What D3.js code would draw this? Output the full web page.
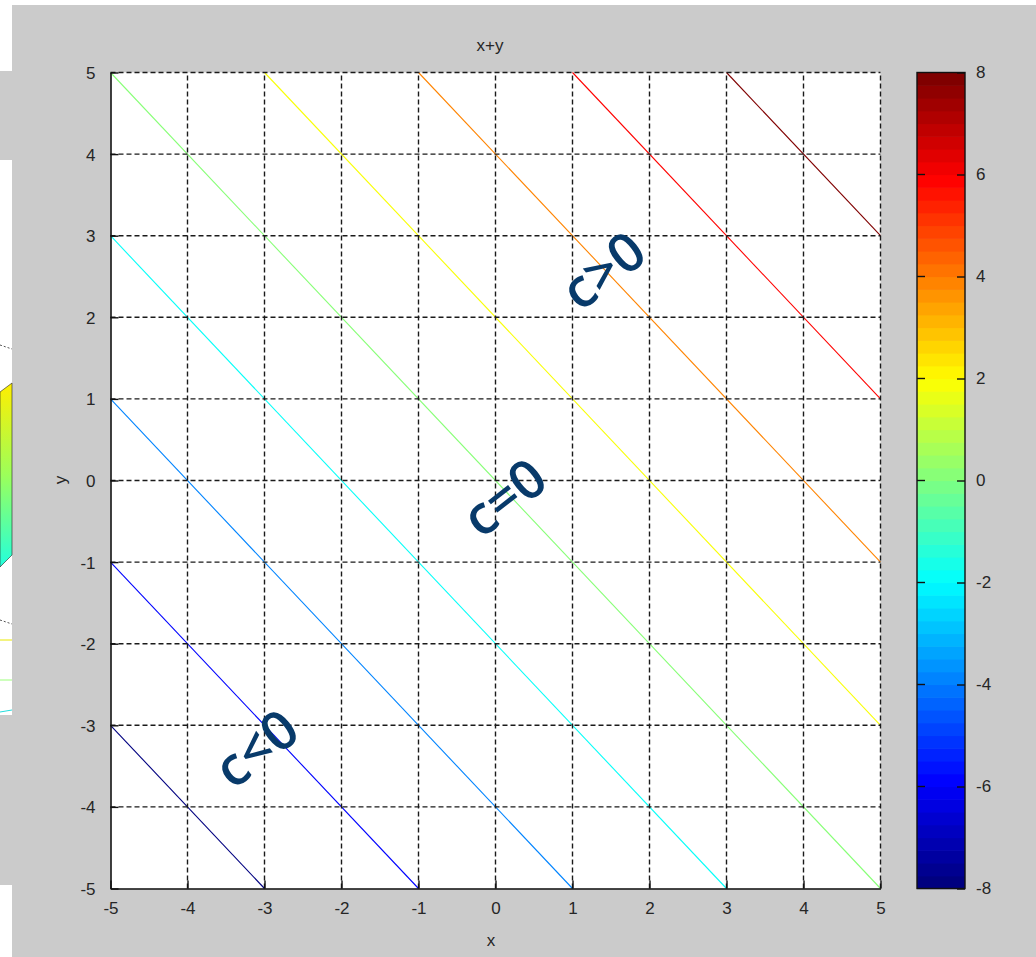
<!DOCTYPE html>
<html>
<head>
<meta charset="utf-8">
<script src="https://cdn.jsdelivr.net/npm/d3@7"></script>
<style>
  html, body { margin: 0; padding: 0; background: #fff; }
  svg { display: block; }
  text { font-family: "Liberation Sans", Arial, sans-serif; fill: #262626; }
</style>
</head>
<body>
<div id="chart"></div>
<script>
// contour of x+y over [-5,5]x[-5,5]
const levels = [-8, -6, -4, -2, 0, 2, 4, 6, 8]
const xTicks = [-5, -4, -3, -2, -1, 0, 1, 2, 3, 4, 5]
const yTicks = [-5, -4, -3, -2, -1, 0, 1, 2, 3, 4, 5]
const cbTicks = [-8, -6, -4, -2, 0, 2, 4, 6, 8]
const notes = [
    {label: 'c>0', x: 602, y: 269},
    {label: 'c=0', x: 503, y: 496},
    {label: 'c<0', x: 255, y: 747}
]

const W = 1036, H = 957
const svg = d3.select('#chart').append('svg').attr('width', W).attr('height', H)
const fmt = d => String(d)   // plain hyphen minus like matlab

// window background pieces
svg.append('rect').attr('x', 0).attr('y', 0).attr('width', W).attr('height', H).attr('fill', '#fff')
svg.append('rect').attr('x', 12).attr('y', 5).attr('width', W - 12).attr('height', H - 5).attr('fill', '#cbcbcb')
svg.append('rect').attr('x', 0).attr('y', 71).attr('width', 12).attr('height', 814).attr('fill', '#cbcbcb')

// leftover of the other figure window on the left edge
const left = svg.append('g')
left.append('rect').attr('x', 0).attr('y', 160).attr('width', 12).attr('height', 555).attr('fill', '#fff')
const grad = svg.append('defs').append('linearGradient').attr('id', 'surf')
    .attr('x1', 0).attr('y1', 0).attr('x2', 0).attr('y2', 1)
grad.append('stop').attr('offset', 0).attr('stop-color', '#ffee00')
grad.append('stop').attr('offset', 0.5).attr('stop-color', '#9cff5a')
grad.append('stop').attr('offset', 1).attr('stop-color', '#22ffdd')
left.append('path').attr('d', 'M0,392 L12,383 L12,555 L0,567 Z').attr('fill', 'url(#surf)')
    .attr('stroke', '#222').attr('stroke-width', 0.6)
left.append('line').attr('x1', 0).attr('x2', 12).attr('y1', 640).attr('y2', 640).attr('stroke', '#e8e800')
left.append('line').attr('x1', 0).attr('x2', 12).attr('y1', 680).attr('y2', 680).attr('stroke', '#9cff7a')
left.append('line').attr('x1', 0).attr('x2', 12).attr('y1', 712).attr('y2', 710).attr('stroke', '#22dddd')
left.append('line').attr('x1', 0).attr('x2', 12).attr('y1', 345).attr('y2', 349).attr('stroke', '#555').attr('stroke-dasharray', '2,2')
left.append('line').attr('x1', 0).attr('x2', 12).attr('y1', 620).attr('y2', 624).attr('stroke', '#555').attr('stroke-dasharray', '2,2')

// jet colormap, 64 steps like matlab
const jet = d3.range(64).map(i => {
    const t = i / 63
    const c = v => Math.max(0, Math.min(1, v))
    const r = c(1.5 - Math.abs(4 * t - 3))
    const g = c(1.5 - Math.abs(4 * t - 2))
    const b = c(1.5 - Math.abs(4 * t - 1))
    return d3.rgb(r * 255, g * 255, b * 255).formatHex()
})
const colorOf = v => jet[Math.round((v + 8) / 16 * 63)]

const x = d3.scaleLinear().domain([-5, 5]).range([110.5, 880.5])
const y = d3.scaleLinear().domain([-5, 5]).range([888.5, 72.5])

// plot area
svg.append('rect').attr('x', x(-5)).attr('y', y(5))
    .attr('width', x(5) - x(-5)).attr('height', y(-5) - y(5)).attr('fill', '#fff')

// contour lines x+y=c clipped to the box
const g = svg.append('g')
g.selectAll('line.lvl').data(levels).enter().append('line')
    .attr('class', 'lvl')
    .attr('x1', c => x(Math.max(-5, c - 5)))
    .attr('y1', c => y(c - Math.max(-5, c - 5)))
    .attr('x2', c => x(Math.min(5, c + 5)))
    .attr('y2', c => y(c - Math.min(5, c + 5)))
    .attr('stroke', c => colorOf(c))
    .attr('stroke-width', 1.1)

// dashed grid
const grid = svg.append('g').attr('stroke', '#1a1a1a').attr('stroke-width', 1.4).attr('stroke-dasharray', '5,3')
grid.selectAll('line.gx').data(xTicks.filter(d => d > -5)).enter().append('line')
    .attr('x1', d => x(d)).attr('x2', d => x(d)).attr('y1', y(-5)).attr('y2', y(5))
grid.selectAll('line.gy').data(yTicks.filter(d => d > -5)).enter().append('line')
    .attr('y1', d => y(d)).attr('y2', d => y(d)).attr('x1', x(-5)).attr('x2', x(5))

// axes
const xAxis = svg.append('g').attr('transform', `translate(0,${y(-5)})`)
    .call(d3.axisBottom(x).tickValues(xTicks).tickFormat(fmt).tickSizeInner(-8).tickSizeOuter(0).tickPadding(13))
const yAxis = svg.append('g').attr('transform', `translate(${x(-5)},0)`)
    .call(d3.axisLeft(y).tickValues(yTicks).tickFormat(fmt).tickSizeInner(-8).tickSizeOuter(0).tickPadding(15))
;[xAxis, yAxis].forEach(a => {
    a.select('.domain').attr('stroke', '#111').attr('stroke-width', 1.6)
    a.selectAll('.tick line').attr('stroke', '#111').attr('stroke-width', 1.4)
    a.selectAll('.tick text').attr('font-size', 17).attr('fill', '#222')
        .style('font-family', '"Liberation Sans", Arial, sans-serif')
})
yAxis.selectAll('.tick text').attr('dy', '0.35em')

// labels
svg.append('text').attr('x', 490).attr('y', 51).attr('text-anchor', 'middle')
    .attr('font-size', 17).text('x+y')
svg.append('text').attr('x', 491).attr('y', 946).attr('text-anchor', 'middle')
    .attr('font-size', 17).text('x')
svg.append('text').attr('transform', 'translate(66,480) rotate(-90)').attr('text-anchor', 'middle')
    .attr('font-size', 17).text('y')

// colorbar
const cb = {x0: 917, x1: 965}
const cy = d3.scaleLinear().domain([-8, 8]).range([888.5, 72.5])
const step = 16 / 64
svg.append('g').selectAll('rect').data(jet).enter().append('rect')
    .attr('x', cb.x0).attr('width', cb.x1 - cb.x0)
    .attr('y', (d, i) => cy(-8 + (i + 1) * step))
    .attr('height', (d, i) => cy(-8 + i * step) - cy(-8 + (i + 1) * step) + 0.6)
    .attr('fill', d => d)
svg.append('rect').attr('x', cb.x0).attr('y', cy(8)).attr('width', cb.x1 - cb.x0)
    .attr('height', cy(-8) - cy(8)).attr('fill', 'none').attr('stroke', '#111').attr('stroke-width', 1.4)
const cbAxis = svg.append('g').attr('transform', `translate(${cb.x1},0)`)
    .call(d3.axisRight(cy).tickValues(cbTicks).tickFormat(fmt).tickSizeInner(-8).tickSizeOuter(0).tickPadding(11))
cbAxis.select('.domain').remove()
cbAxis.selectAll('.tick line').attr('stroke', '#111').attr('stroke-width', 1.4)
cbAxis.selectAll('.tick text').attr('font-size', 17).attr('fill', '#222')
    .style('font-family', '"Liberation Sans", Arial, sans-serif')
svg.append('g').selectAll('line').data(cbTicks.filter(d => d > -8 && d < 8)).enter().append('line')
    .attr('x1', cb.x0).attr('x2', cb.x0 + 8).attr('y1', d => cy(d)).attr('y2', d => cy(d))
    .attr('stroke', '#111').attr('stroke-width', 1.4)

// annotations
svg.append('g').selectAll('text').data(notes).enter().append('text')
    .attr('transform', d => `translate(${d.x},${d.y}) rotate(-38)`)
    .attr('text-anchor', 'middle').attr('dominant-baseline', 'central')
    .attr('font-size', 54).attr('font-weight', 600)
    .style('font-family', '"Open Sans", "Noto Sans", sans-serif')
    .style('fill', '#083a6a')
    .text(d => d.label)
</script>
</body>
</html>
